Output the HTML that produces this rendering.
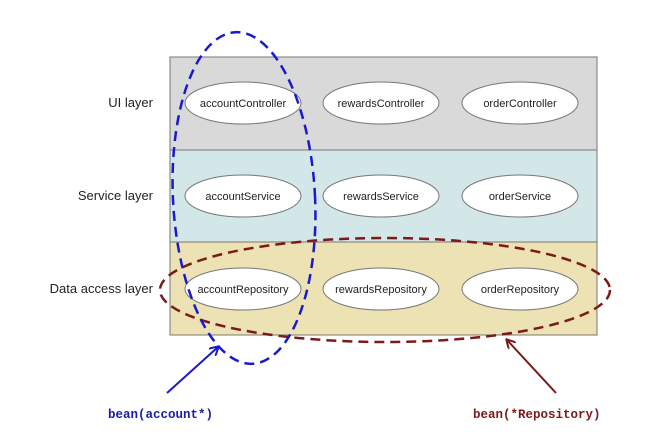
<!DOCTYPE html>
<html><head><style>body{margin:0;background:#fff}svg{display:block}</style></head><body>
<svg width="661" height="440" xmlns="http://www.w3.org/2000/svg">
<defs>
<marker id="ab" markerWidth="10" markerHeight="10" refX="8" refY="5" orient="auto" markerUnits="userSpaceOnUse"><path d="M0,0 L9,5 L0,10" fill="none" stroke="#1a1acc" stroke-width="2"/></marker>
<marker id="ar" markerWidth="10" markerHeight="10" refX="8" refY="5" orient="auto" markerUnits="userSpaceOnUse"><path d="M0,0 L9,5 L0,10" fill="none" stroke="#7a1a1a" stroke-width="2"/></marker>
</defs>
<rect x="170" y="57" width="427" height="93" fill="#d9d9d9" stroke="#777"/>
<rect x="170" y="150" width="427" height="92" fill="#d3e7e8" stroke="#777"/>
<rect x="170" y="242" width="427" height="93" fill="#ece2b3" stroke="#777"/>
<g font-family="Liberation Sans, sans-serif" font-size="13" fill="#222" text-anchor="end">
<text x="153" y="107">UI layer</text>
<text x="153" y="200">Service layer</text>
<text x="153" y="293">Data access layer</text>
</g>
<g fill="#fff" stroke="#777" stroke-width="1">
<ellipse cx="243" cy="103" rx="58" ry="21"/><ellipse cx="381" cy="103" rx="58" ry="21"/><ellipse cx="520" cy="103" rx="58" ry="21"/>
<ellipse cx="243" cy="196" rx="58" ry="21"/><ellipse cx="381" cy="196" rx="58" ry="21"/><ellipse cx="520" cy="196" rx="58" ry="21"/>
<ellipse cx="243" cy="289" rx="58" ry="21"/><ellipse cx="381" cy="289" rx="58" ry="21"/><ellipse cx="520" cy="289" rx="58" ry="21"/>
</g>
<g font-family="Liberation Sans, sans-serif" font-size="11" fill="#222" text-anchor="middle">
<text x="243" y="107">accountController</text><text x="381" y="107">rewardsController</text><text x="520" y="107">orderController</text>
<text x="243" y="200">accountService</text><text x="381" y="200">rewardsService</text><text x="520" y="200">orderService</text>
<text x="243" y="293">accountRepository</text><text x="381" y="293">rewardsRepository</text><text x="520" y="293">orderRepository</text>
</g>
<ellipse cx="385" cy="290" rx="225" ry="52" fill="none" stroke="#7a1a1a" stroke-width="2.5" stroke-dasharray="10,6"/>
<ellipse cx="244" cy="198" rx="71" ry="166" fill="none" stroke="#1a1acc" stroke-width="2.5" stroke-dasharray="10,6" transform="rotate(-3 244 198)"/>
<line x1="167" y1="393" x2="218" y2="347" stroke="#1a1acc" stroke-width="2" marker-end="url(#ab)"/>
<line x1="556" y1="393" x2="507" y2="340" stroke="#7a1a1a" stroke-width="2" marker-end="url(#ar)"/>
<text x="108" y="418" font-family="Liberation Mono, monospace" font-weight="bold" font-size="12.5" fill="#1a1aaa">bean(account*)</text>
<text x="473" y="418" font-family="Liberation Mono, monospace" font-weight="bold" font-size="12.5" fill="#7a1a1a">bean(*Repository)</text>
</svg>
</body></html>
